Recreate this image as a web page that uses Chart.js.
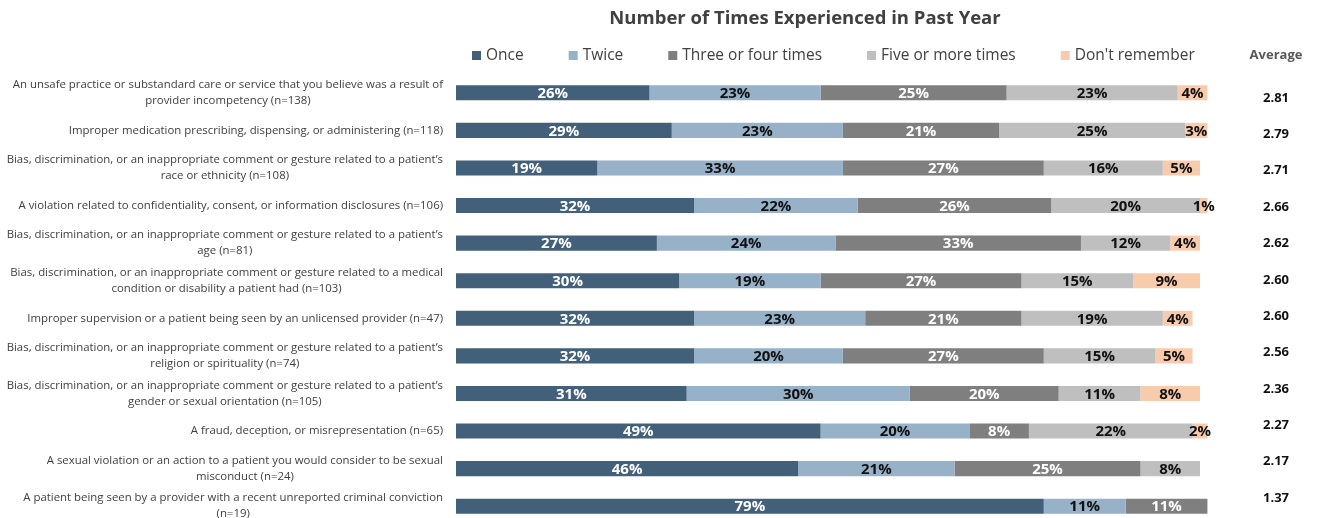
<!DOCTYPE html>
<html>
<head>
<meta charset="utf-8">
<script src="https://cdn.jsdelivr.net/npm/chart.js@4/dist/chart.umd.min.js"></script>
<style>
  html, body { margin: 0; padding: 0; background: #fff; overflow: hidden; }
  #wrap { position: relative; width: 1335px; height: 525px; }
</style>
</head>
<body>
<div id="wrap"><canvas id="c"></canvas></div>
<script>
// Experience categories (each entry is the list of label lines)
const categories = [
  ["An unsafe practice or substandard care or service that you believe was a result of", "provider incompetency (n=138)"],
  ["Improper medication prescribing, dispensing, or administering (n=118)"],
  ["Bias, discrimination, or an inappropriate comment or gesture related to a patient\u2019s", "race or ethnicity (n=108)"],
  ["A violation related to confidentiality, consent, or information disclosures (n=106)"],
  ["Bias, discrimination, or an inappropriate comment or gesture related to a patient\u2019s", "age (n=81)"],
  ["Bias, discrimination, or an inappropriate comment or gesture related to a medical", "condition or disability a patient had (n=103)"],
  ["Improper supervision or a patient being seen by an unlicensed provider (n=47)"],
  ["Bias, discrimination, or an inappropriate comment or gesture related to a patient\u2019s", "religion or spirituality (n=74)"],
  ["Bias, discrimination, or an inappropriate comment or gesture related to a patient\u2019s", "gender or sexual orientation (n=105)"],
  ["A fraud, deception, or misrepresentation (n=65)"],
  ["A sexual violation or an action to a patient you would consider to be sexual", "misconduct (n=24)"],
  ["A patient being seen by a provider with a recent unreported criminal conviction", "(n=19)"]
];

// Share of respondents (%) by number of times experienced
const once          = [26, 29, 19, 32, 27, 30, 32, 32, 31, 49, 46, 79];
const twice         = [23, 23, 33, 22, 24, 19, 23, 20, 30, 20, 21, 11];
const threeOrFour   = [25, 21, 27, 26, 33, 27, 21, 27, 20,  8, 25, 11];
const fiveOrMore    = [23, 25, 16, 20, 12, 15, 19, 15, 11, 22,  8,  0];
const dontRemember  = [ 4,  3,  5,  1,  4,  9,  4,  5,  8,  2,  0,  0];

// Average number of times experienced
const averages = ["2.81", "2.79", "2.71", "2.66", "2.62", "2.60", "2.60", "2.56", "2.36", "2.27", "2.17", "1.37"];

const seriesNames = ["Once", "Twice", "Three or four times", "Five or more times", "Don't remember"];
const seriesData = [once, twice, threeOrFour, fiveOrMore, dontRemember];
const seriesColors = ["#43607a", "#97b1c8", "#7f7f7f", "#bfbfbf", "#f8cbad"];
const labelColors = ["#ffffff", "#111111", "#ffffff", "#111111", "#111111"];

const FONT = "'Open Sans', 'Noto Sans', sans-serif";
const TEXT = "#404040";

const decorations = {
  id: "decorations",
  afterDatasetsDraw(chart) {
    const ctx = chart.ctx;
    const yScale = chart.scales.y;
    ctx.save();

    // Title
    ctx.fillStyle = TEXT;
    ctx.font = "bold 18.5px " + FONT;
    ctx.textAlign = "center";
    ctx.textBaseline = "middle";
    ctx.fillText("Number of Times Experienced in Past Year", 805, 19);

    // Legend
    ctx.font = "15.5px " + FONT;
    ctx.textAlign = "left";
    let lx = 472;
    seriesNames.forEach((name, i) => {
      ctx.fillStyle = seriesColors[i];
      ctx.fillRect(lx, 51, 9, 9);
      ctx.fillStyle = TEXT;
      ctx.fillText(name, lx + 14, 56);
      lx += 14 + ctx.measureText(name).width + 45;
    });

    // Average column
    ctx.font = "bold 13px " + FONT;
    ctx.fillStyle = "#595959";
    ctx.textAlign = "center";
    ctx.fillText("Average", 1276, 55);
    ctx.fillStyle = "#111111";
    const avgTop = 98, avgBottom = 498;
    averages.forEach((a, i) => {
      const y = avgTop + i * (avgBottom - avgTop) / (averages.length - 1);
      ctx.fillText(a, 1276, y);
    });

    // Category labels: right-aligned block, lines centred within it
    ctx.font = "11.4px " + FONT;
    ctx.fillStyle = TEXT;
    const right = 443, lineH = 16;
    categories.forEach((lines, i) => {
      const cy = yScale.getPixelForValue(i);
      const w = Math.max(...lines.map(l => ctx.measureText(l).width));
      const cx = right - w / 2;
      const y0 = cy - (lines.length - 1) * lineH / 2;
      lines.forEach((l, k) => ctx.fillText(l, cx, y0 + k * lineH));
    });

    // Value labels centred on each segment
    ctx.font = "bold 15px " + FONT;
    chart.data.datasets.forEach((ds, di) => {
      const meta = chart.getDatasetMeta(di);
      ctx.fillStyle = labelColors[di];
      meta.data.forEach((el, i) => {
        const v = ds.data[i];
        if (!v) return;
        const x = (el.x + el.base) / 2;
        ctx.fillText(v + "%", x, el.y + 1);
      });
    });
    ctx.restore();
  }
};

new Chart(document.getElementById("c"), {
  type: "bar",
  data: {
    labels: categories,
    datasets: seriesNames.map((name, i) => ({
      label: name,
      data: seriesData[i],
      backgroundColor: seriesColors[i],
      borderWidth: 0,
      barPercentage: 0.4,
      categoryPercentage: 1,
      clip: false
    }))
  },
  options: {
    indexAxis: "y",
    responsive: true,
    maintainAspectRatio: false,
    animation: false,
    layout: { padding: { left: 456, right: 135, top: 74, bottom: 0 } },
    scales: {
      x: { stacked: true, min: 0, max: 100, display: false },
      y: { stacked: true, display: false, offset: true }
    },
    plugins: {
      legend: { display: false },
      title: { display: false },
      tooltip: { enabled: false }
    }
  },
  plugins: [decorations]
});
</script>
</body>
</html>
